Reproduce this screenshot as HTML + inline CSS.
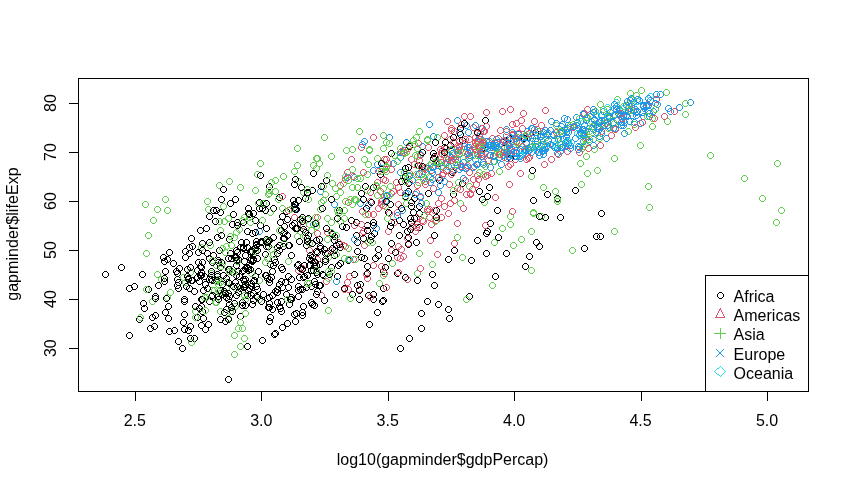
<!DOCTYPE html>
<html lang="en"><head><meta charset="utf-8"><title>gapminder scatter plot</title>
<style>
html,body{margin:0;padding:0;background:#fff;}
body{width:849px;height:489px;overflow:hidden;}
svg{display:block;}
text{font-family:"Liberation Sans",Arial,sans-serif;font-size:16px;fill:#000;}
</style></head><body>
<svg width="849" height="489" viewBox="0 0 849 489">
<defs><path id="c" d="M2 0h3v1h-3zM1 1h1v1h-1zM5 1h1v1h-1zM0 2h1v3h-1zM6 2h1v3h-1zM1 5h1v1h-1zM5 5h1v1h-1zM2 6h3v1h-3z"/></defs>
<rect width="849" height="489" fill="#fff"/>
<g shape-rendering="crispEdges">
<g fill="#61D04F"><use href="#c" x="231" y="351"/><use href="#c" x="237" y="343"/><use href="#c" x="241" y="335"/><use href="#c" x="239" y="325"/><use href="#c" x="225" y="315"/><use href="#c" x="232" y="303"/><use href="#c" x="256" y="296"/><use href="#c" x="241" y="292"/><use href="#c" x="211" y="287"/><use href="#c" x="209" y="287"/><use href="#c" x="223" y="285"/><use href="#c" x="256" y="277"/></g>
<g fill="#2297E6"><use href="#c" x="310" y="221"/><use href="#c" x="331" y="201"/><use href="#c" x="351" y="174"/><use href="#c" x="370" y="167"/><use href="#c" x="390" y="160"/><use href="#c" x="397" y="154"/><use href="#c" x="400" y="147"/><use href="#c" x="403" y="139"/><use href="#c" x="359" y="141"/><use href="#c" x="386" y="134"/><use href="#c" x="426" y="121"/><use href="#c" x="454" y="117"/></g>
<g fill="#000000"><use href="#c" x="357" y="281"/><use href="#c" x="380" y="268"/><use href="#c" x="361" y="255"/><use href="#c" x="388" y="240"/><use href="#c" x="416" y="224"/><use href="#c" x="433" y="207"/><use href="#c" x="450" y="191"/><use href="#c" x="449" y="169"/><use href="#c" x="436" y="160"/><use href="#c" x="431" y="153"/><use href="#c" x="441" y="144"/><use href="#c" x="459" y="137"/><use href="#c" x="397" y="345"/><use href="#c" x="406" y="335"/><use href="#c" x="418" y="325"/><use href="#c" x="446" y="315"/><use href="#c" x="445" y="306"/><use href="#c" x="379" y="298"/><use href="#c" x="370" y="296"/><use href="#c" x="356" y="296"/><use href="#c" x="365" y="292"/><use href="#c" x="349" y="291"/><use href="#c" x="370" y="291"/><use href="#c" x="431" y="282"/></g>
<g fill="#DF536B"><use href="#c" x="454" y="185"/><use href="#c" x="470" y="176"/><use href="#c" x="474" y="172"/><use href="#c" x="488" y="170"/><use href="#c" x="505" y="163"/><use href="#c" x="512" y="156"/><use href="#c" x="500" y="149"/><use href="#c" x="501" y="145"/><use href="#c" x="503" y="139"/><use href="#c" x="521" y="133"/><use href="#c" x="497" y="127"/><use href="#c" x="538" y="122"/></g>
<g fill="#28E2E5"><use href="#c" x="512" y="153"/><use href="#c" x="521" y="147"/><use href="#c" x="533" y="144"/><use href="#c" x="552" y="143"/><use href="#c" x="568" y="139"/><use href="#c" x="578" y="131"/><use href="#c" x="585" y="125"/><use href="#c" x="597" y="118"/><use href="#c" x="605" y="112"/><use href="#c" x="620" y="105"/><use href="#c" x="634" y="98"/><use href="#c" x="647" y="93"/></g>
<g fill="#2297E6"><use href="#c" x="458" y="164"/><use href="#c" x="498" y="161"/><use href="#c" x="519" y="151"/><use href="#c" x="539" y="148"/><use href="#c" x="567" y="145"/><use href="#c" x="586" y="138"/><use href="#c" x="596" y="133"/><use href="#c" x="606" y="124"/><use href="#c" x="621" y="119"/><use href="#c" x="629" y="112"/><use href="#c" x="641" y="105"/><use href="#c" x="652" y="100"/></g>
<g fill="#61D04F"><use href="#c" x="510" y="242"/><use href="#c" x="528" y="228"/><use href="#c" x="538" y="213"/><use href="#c" x="554" y="198"/><use href="#c" x="578" y="181"/><use href="#c" x="584" y="170"/><use href="#c" x="583" y="153"/><use href="#c" x="579" y="145"/><use href="#c" x="582" y="136"/><use href="#c" x="589" y="129"/><use href="#c" x="605" y="125"/><use href="#c" x="631" y="121"/><use href="#c" x="217" y="308"/><use href="#c" x="213" y="299"/><use href="#c" x="217" y="290"/><use href="#c" x="223" y="279"/><use href="#c" x="208" y="270"/><use href="#c" x="213" y="262"/><use href="#c" x="216" y="247"/><use href="#c" x="227" y="233"/><use href="#c" x="239" y="217"/><use href="#c" x="255" y="200"/><use href="#c" x="272" y="188"/><use href="#c" x="295" y="178"/></g>
<g fill="#2297E6"><use href="#c" x="491" y="158"/><use href="#c" x="508" y="152"/><use href="#c" x="522" y="147"/><use href="#c" x="541" y="144"/><use href="#c" x="567" y="142"/><use href="#c" x="583" y="135"/><use href="#c" x="593" y="129"/><use href="#c" x="601" y="122"/><use href="#c" x="614" y="117"/><use href="#c" x="623" y="112"/><use href="#c" x="634" y="108"/><use href="#c" x="645" y="102"/></g>
<g fill="#000000"><use href="#c" x="265" y="304"/><use href="#c" x="254" y="294"/><use href="#c" x="253" y="283"/><use href="#c" x="262" y="272"/><use href="#c" x="267" y="261"/><use href="#c" x="262" y="251"/><use href="#c" x="285" y="242"/><use href="#c" x="281" y="235"/><use href="#c" x="278" y="227"/><use href="#c" x="281" y="223"/><use href="#c" x="293" y="225"/><use href="#c" x="299" y="214"/></g>
<g fill="#DF536B"><use href="#c" x="367" y="294"/><use href="#c" x="341" y="286"/><use href="#c" x="344" y="279"/><use href="#c" x="363" y="271"/><use href="#c" x="378" y="263"/><use href="#c" x="398" y="246"/><use href="#c" x="385" y="228"/><use href="#c" x="370" y="211"/><use href="#c" x="378" y="198"/><use href="#c" x="390" y="188"/><use href="#c" x="393" y="179"/><use href="#c" x="406" y="170"/></g>
<g fill="#2297E6"><use href="#c" x="256" y="228"/><use href="#c" x="292" y="205"/><use href="#c" x="317" y="188"/><use href="#c" x="344" y="174"/><use href="#c" x="374" y="161"/><use href="#c" x="397" y="149"/><use href="#c" x="414" y="145"/><use href="#c" x="419" y="143"/><use href="#c" x="361" y="138"/><use href="#c" x="430" y="133"/><use href="#c" x="456" y="129"/><use href="#c" x="479" y="125"/></g>
<g fill="#000000"><use href="#c" x="241" y="258"/><use href="#c" x="249" y="248"/><use href="#c" x="257" y="239"/><use href="#c" x="280" y="230"/><use href="#c" x="348" y="217"/><use href="#c" x="387" y="201"/><use href="#c" x="425" y="190"/><use href="#c" x="459" y="180"/><use href="#c" x="486" y="184"/><use href="#c" x="495" y="234"/><use href="#c" x="522" y="263"/><use href="#c" x="536" y="243"/></g>
<g fill="#DF536B"><use href="#c" x="340" y="242"/><use href="#c" x="359" y="230"/><use href="#c" x="391" y="219"/><use href="#c" x="394" y="209"/><use href="#c" x="435" y="200"/><use href="#c" x="467" y="190"/><use href="#c" x="473" y="181"/><use href="#c" x="484" y="172"/><use href="#c" x="471" y="163"/><use href="#c" x="486" y="152"/><use href="#c" x="489" y="144"/><use href="#c" x="501" y="137"/></g>
<g fill="#2297E6"><use href="#c" x="357" y="200"/><use href="#c" x="379" y="165"/><use href="#c" x="417" y="151"/><use href="#c" x="447" y="147"/><use href="#c" x="466" y="144"/><use href="#c" x="481" y="145"/><use href="#c" x="490" y="143"/><use href="#c" x="490" y="142"/><use href="#c" x="461" y="143"/><use href="#c" x="455" y="147"/><use href="#c" x="483" y="138"/><use href="#c" x="519" y="134"/></g>
<g fill="#000000"><use href="#c" x="191" y="335"/><use href="#c" x="205" y="321"/><use href="#c" x="223" y="306"/><use href="#c" x="233" y="292"/><use href="#c" x="241" y="278"/><use href="#c" x="226" y="266"/><use href="#c" x="235" y="256"/><use href="#c" x="248" y="249"/><use href="#c" x="251" y="245"/><use href="#c" x="252" y="245"/><use href="#c" x="263" y="243"/><use href="#c" x="280" y="235"/><use href="#c" x="140" y="300"/><use href="#c" x="152" y="293"/><use href="#c" x="145" y="286"/><use href="#c" x="161" y="278"/><use href="#c" x="174" y="276"/><use href="#c" x="194" y="267"/><use href="#c" x="195" y="259"/><use href="#c" x="206" y="255"/><use href="#c" x="208" y="272"/><use href="#c" x="174" y="270"/><use href="#c" x="170" y="260"/><use href="#c" x="166" y="249"/></g>
<g fill="#61D04F"><use href="#c" x="149" y="298"/><use href="#c" x="167" y="289"/><use href="#c" x="182" y="279"/><use href="#c" x="187" y="269"/><use href="#c" x="164" y="294"/><use href="#c" x="188" y="339"/><use href="#c" x="207" y="242"/><use href="#c" x="217" y="227"/><use href="#c" x="216" y="218"/><use href="#c" x="225" y="215"/><use href="#c" x="246" y="214"/><use href="#c" x="318" y="199"/></g>
<g fill="#000000"><use href="#c" x="276" y="303"/><use href="#c" x="288" y="294"/><use href="#c" x="295" y="283"/><use href="#c" x="304" y="272"/><use href="#c" x="316" y="261"/><use href="#c" x="322" y="250"/><use href="#c" x="353" y="232"/><use href="#c" x="364" y="222"/><use href="#c" x="323" y="225"/><use href="#c" x="316" y="236"/><use href="#c" x="331" y="247"/><use href="#c" x="337" y="244"/></g>
<g fill="#DF536B"><use href="#c" x="525" y="155"/><use href="#c" x="536" y="149"/><use href="#c" x="544" y="142"/><use href="#c" x="563" y="138"/><use href="#c" x="582" y="134"/><use href="#c" x="598" y="128"/><use href="#c" x="602" y="120"/><use href="#c" x="619" y="115"/><use href="#c" x="618" y="110"/><use href="#c" x="628" y="106"/><use href="#c" x="644" y="101"/><use href="#c" x="653" y="96"/></g>
<g fill="#000000"><use href="#c" x="266" y="318"/><use href="#c" x="278" y="308"/><use href="#c" x="278" y="298"/><use href="#c" x="272" y="288"/><use href="#c" x="266" y="279"/><use href="#c" x="270" y="262"/><use href="#c" x="254" y="255"/><use href="#c" x="240" y="244"/><use href="#c" x="227" y="250"/><use href="#c" x="225" y="266"/><use href="#c" x="225" y="279"/><use href="#c" x="220" y="272"/><use href="#c" x="277" y="305"/><use href="#c" x="288" y="296"/><use href="#c" x="295" y="287"/><use href="#c" x="278" y="278"/><use href="#c" x="269" y="268"/><use href="#c" x="272" y="259"/><use href="#c" x="234" y="249"/><use href="#c" x="253" y="241"/><use href="#c" x="265" y="238"/><use href="#c" x="259" y="239"/><use href="#c" x="274" y="244"/><use href="#c" x="317" y="243"/></g>
<g fill="#DF536B"><use href="#c" x="409" y="223"/><use href="#c" x="419" y="217"/><use href="#c" x="424" y="208"/><use href="#c" x="438" y="195"/><use href="#c" x="446" y="181"/><use href="#c" x="430" y="163"/><use href="#c" x="437" y="146"/><use href="#c" x="447" y="136"/><use href="#c" x="481" y="128"/><use href="#c" x="513" y="120"/><use href="#c" x="520" y="110"/><use href="#c" x="542" y="107"/></g>
<g fill="#61D04F"><use href="#c" x="158" y="276"/><use href="#c" x="198" y="244"/><use href="#c" x="180" y="274"/><use href="#c" x="205" y="206"/><use href="#c" x="216" y="182"/><use href="#c" x="226" y="178"/><use href="#c" x="254" y="171"/><use href="#c" x="294" y="162"/><use href="#c" x="314" y="155"/><use href="#c" x="349" y="146"/><use href="#c" x="383" y="139"/><use href="#c" x="434" y="134"/></g>
<g fill="#DF536B"><use href="#c" x="342" y="243"/><use href="#c" x="351" y="222"/><use href="#c" x="359" y="208"/><use href="#c" x="367" y="198"/><use href="#c" x="388" y="190"/><use href="#c" x="406" y="179"/><use href="#c" x="421" y="165"/><use href="#c" x="433" y="160"/><use href="#c" x="445" y="156"/><use href="#c" x="457" y="147"/><use href="#c" x="451" y="140"/><use href="#c" x="472" y="134"/></g>
<g fill="#000000"><use href="#c" x="269" y="292"/><use href="#c" x="279" y="284"/><use href="#c" x="296" y="274"/><use href="#c" x="328" y="264"/><use href="#c" x="331" y="252"/><use href="#c" x="276" y="242"/><use href="#c" x="284" y="232"/><use href="#c" x="289" y="222"/><use href="#c" x="283" y="208"/><use href="#c" x="276" y="194"/><use href="#c" x="266" y="183"/><use href="#c" x="257" y="172"/><use href="#c" x="231" y="300"/><use href="#c" x="248" y="292"/><use href="#c" x="246" y="285"/><use href="#c" x="242" y="276"/><use href="#c" x="247" y="266"/><use href="#c" x="233" y="257"/><use href="#c" x="215" y="257"/><use href="#c" x="215" y="259"/><use href="#c" x="173" y="268"/><use href="#c" x="131" y="283"/><use href="#c" x="102" y="271"/><use href="#c" x="118" y="264"/><use href="#c" x="341" y="285"/><use href="#c" x="351" y="271"/><use href="#c" x="358" y="254"/><use href="#c" x="367" y="237"/><use href="#c" x="387" y="223"/><use href="#c" x="388" y="219"/><use href="#c" x="433" y="214"/><use href="#c" x="416" y="210"/><use href="#c" x="411" y="215"/><use href="#c" x="396" y="232"/><use href="#c" x="396" y="232"/><use href="#c" x="400" y="221"/></g>
<g fill="#DF536B"><use href="#c" x="365" y="211"/><use href="#c" x="379" y="197"/><use href="#c" x="395" y="184"/><use href="#c" x="415" y="171"/><use href="#c" x="438" y="159"/><use href="#c" x="454" y="145"/><use href="#c" x="441" y="132"/><use href="#c" x="448" y="125"/><use href="#c" x="458" y="121"/><use href="#c" x="467" y="113"/><use href="#c" x="483" y="109"/><use href="#c" x="507" y="106"/></g>
<g fill="#000000"><use href="#c" x="295" y="293"/><use href="#c" x="303" y="284"/><use href="#c" x="319" y="271"/><use href="#c" x="337" y="260"/><use href="#c" x="354" y="248"/><use href="#c" x="360" y="235"/><use href="#c" x="364" y="227"/><use href="#c" x="343" y="224"/><use href="#c" x="313" y="237"/><use href="#c" x="322" y="256"/><use href="#c" x="313" y="262"/><use href="#c" x="306" y="255"/></g>
<g fill="#2297E6"><use href="#c" x="383" y="192"/><use href="#c" x="420" y="174"/><use href="#c" x="445" y="163"/><use href="#c" x="472" y="156"/><use href="#c" x="502" y="150"/><use href="#c" x="525" y="145"/><use href="#c" x="542" y="146"/><use href="#c" x="547" y="141"/><use href="#c" x="493" y="136"/><use href="#c" x="510" y="131"/><use href="#c" x="528" y="125"/><use href="#c" x="553" y="120"/></g>
<g fill="#DF536B"><use href="#c" x="447" y="200"/><use href="#c" x="457" y="186"/><use href="#c" x="439" y="172"/><use href="#c" x="449" y="157"/><use href="#c" x="442" y="145"/><use href="#c" x="462" y="136"/><use href="#c" x="477" y="130"/><use href="#c" x="480" y="128"/><use href="#c" x="448" y="127"/><use href="#c" x="444" y="118"/><use href="#c" x="461" y="113"/><use href="#c" x="499" y="108"/></g>
<g fill="#2297E6"><use href="#c" x="470" y="164"/><use href="#c" x="490" y="153"/><use href="#c" x="513" y="149"/><use href="#c" x="526" y="147"/><use href="#c" x="541" y="147"/><use href="#c" x="554" y="145"/><use href="#c" x="559" y="144"/><use href="#c" x="565" y="141"/><use href="#c" x="551" y="137"/><use href="#c" x="563" y="129"/><use href="#c" x="573" y="122"/><use href="#c" x="602" y="117"/><use href="#c" x="508" y="145"/><use href="#c" x="523" y="140"/><use href="#c" x="545" y="137"/><use href="#c" x="563" y="134"/><use href="#c" x="581" y="132"/><use href="#c" x="590" y="126"/><use href="#c" x="596" y="126"/><use href="#c" x="612" y="125"/><use href="#c" x="618" y="122"/><use href="#c" x="631" y="119"/><use href="#c" x="640" y="113"/><use href="#c" x="650" y="108"/></g>
<g fill="#000000"><use href="#c" x="366" y="321"/><use href="#c" x="374" y="309"/><use href="#c" x="380" y="297"/><use href="#c" x="380" y="285"/><use href="#c" x="402" y="274"/><use href="#c" x="382" y="264"/><use href="#c" x="375" y="252"/><use href="#c" x="375" y="246"/><use href="#c" x="354" y="239"/><use href="#c" x="329" y="231"/><use href="#c" x="329" y="230"/><use href="#c" x="339" y="223"/></g>
<g fill="#DF536B"><use href="#c" x="295" y="267"/><use href="#c" x="306" y="247"/><use href="#c" x="314" y="230"/><use href="#c" x="314" y="214"/><use href="#c" x="345" y="199"/><use href="#c" x="367" y="189"/><use href="#c" x="374" y="179"/><use href="#c" x="375" y="168"/><use href="#c" x="381" y="156"/><use href="#c" x="400" y="149"/><use href="#c" x="425" y="144"/><use href="#c" x="456" y="138"/><use href="#c" x="397" y="255"/><use href="#c" x="405" y="240"/><use href="#c" x="413" y="224"/><use href="#c" x="426" y="214"/><use href="#c" x="441" y="203"/><use href="#c" x="467" y="191"/><use href="#c" x="475" y="176"/><use href="#c" x="464" y="162"/><use href="#c" x="474" y="150"/><use href="#c" x="479" y="137"/><use href="#c" x="451" y="128"/><use href="#c" x="470" y="124"/></g>
<g fill="#000000"><use href="#c" x="297" y="286"/><use href="#c" x="300" y="274"/><use href="#c" x="316" y="261"/><use href="#c" x="324" y="250"/><use href="#c" x="336" y="241"/><use href="#c" x="371" y="230"/><use href="#c" x="396" y="217"/><use href="#c" x="408" y="199"/><use href="#c" x="405" y="180"/><use href="#c" x="415" y="162"/><use href="#c" x="430" y="150"/><use href="#c" x="447" y="142"/></g>
<g fill="#DF536B"><use href="#c" x="381" y="270"/><use href="#c" x="394" y="254"/><use href="#c" x="404" y="235"/><use href="#c" x="420" y="218"/><use href="#c" x="424" y="206"/><use href="#c" x="438" y="214"/><use href="#c" x="413" y="214"/><use href="#c" x="414" y="182"/><use href="#c" x="422" y="164"/><use href="#c" x="439" y="151"/><use href="#c" x="443" y="145"/><use href="#c" x="450" y="139"/></g>
<g fill="#000000"><use href="#c" x="151" y="323"/><use href="#c" x="165" y="315"/><use href="#c" x="199" y="308"/><use href="#c" x="249" y="301"/><use href="#c" x="215" y="293"/><use href="#c" x="254" y="286"/><use href="#c" x="250" y="278"/><use href="#c" x="255" y="268"/><use href="#c" x="272" y="259"/><use href="#c" x="372" y="255"/><use href="#c" x="483" y="250"/><use href="#c" x="533" y="239"/><use href="#c" x="136" y="316"/><use href="#c" x="141" y="305"/><use href="#c" x="152" y="295"/><use href="#c" x="175" y="285"/><use href="#c" x="185" y="275"/><use href="#c" x="184" y="273"/><use href="#c" x="188" y="277"/><use href="#c" x="187" y="264"/><use href="#c" x="199" y="247"/><use href="#c" x="249" y="230"/><use href="#c" x="229" y="221"/><use href="#c" x="210" y="207"/><use href="#c" x="147" y="325"/><use href="#c" x="152" y="312"/><use href="#c" x="163" y="295"/><use href="#c" x="186" y="285"/><use href="#c" x="196" y="278"/><use href="#c" x="194" y="274"/><use href="#c" x="198" y="272"/><use href="#c" x="197" y="263"/><use href="#c" x="164" y="256"/><use href="#c" x="186" y="250"/><use href="#c" x="189" y="243"/><use href="#c" x="218" y="232"/></g>
<g fill="#2297E6"><use href="#c" x="463" y="165"/><use href="#c" x="480" y="161"/><use href="#c" x="504" y="155"/><use href="#c" x="521" y="149"/><use href="#c" x="551" y="144"/><use href="#c" x="560" y="136"/><use href="#c" x="579" y="126"/><use href="#c" x="594" y="125"/><use href="#c" x="591" y="121"/><use href="#c" x="606" y="114"/><use href="#c" x="625" y="108"/><use href="#c" x="643" y="103"/><use href="#c" x="473" y="161"/><use href="#c" x="496" y="154"/><use href="#c" x="517" y="146"/><use href="#c" x="540" y="141"/><use href="#c" x="564" y="137"/><use href="#c" x="578" y="130"/><use href="#c" x="589" y="125"/><use href="#c" x="598" y="117"/><use href="#c" x="611" y="112"/><use href="#c" x="616" y="106"/><use href="#c" x="628" y="102"/><use href="#c" x="634" y="96"/></g>
<g fill="#000000"><use href="#c" x="418" y="310"/><use href="#c" x="435" y="301"/><use href="#c" x="466" y="293"/><use href="#c" x="492" y="273"/><use href="#c" x="526" y="253"/><use href="#c" x="597" y="233"/><use href="#c" x="557" y="214"/><use href="#c" x="530" y="197"/><use href="#c" x="544" y="191"/><use href="#c" x="554" y="195"/><use href="#c" x="536" y="213"/><use href="#c" x="542" y="214"/><use href="#c" x="179" y="345"/><use href="#c" x="187" y="335"/><use href="#c" x="202" y="326"/><use href="#c" x="225" y="316"/><use href="#c" x="228" y="304"/><use href="#c" x="245" y="287"/><use href="#c" x="239" y="268"/><use href="#c" x="204" y="250"/><use href="#c" x="214" y="234"/><use href="#c" x="212" y="218"/><use href="#c" x="213" y="207"/><use href="#c" x="227" y="200"/></g>
<g fill="#2297E6"><use href="#c" x="474" y="161"/><use href="#c" x="513" y="153"/><use href="#c" x="539" y="147"/><use href="#c" x="554" y="145"/><use href="#c" x="576" y="144"/><use href="#c" x="590" y="136"/><use href="#c" x="598" y="130"/><use href="#c" x="610" y="125"/><use href="#c" x="618" y="119"/><use href="#c" x="624" y="113"/><use href="#c" x="632" y="106"/><use href="#c" x="640" y="102"/></g>
<g fill="#000000"><use href="#c" x="248" y="280"/><use href="#c" x="263" y="272"/><use href="#c" x="278" y="264"/><use href="#c" x="271" y="256"/><use href="#c" x="276" y="247"/><use href="#c" x="258" y="238"/><use href="#c" x="244" y="228"/><use href="#c" x="240" y="219"/><use href="#c" x="250" y="210"/><use href="#c" x="259" y="205"/><use href="#c" x="270" y="205"/><use href="#c" x="290" y="197"/></g>
<g fill="#2297E6"><use href="#c" x="397" y="169"/><use href="#c" x="433" y="159"/><use href="#c" x="456" y="151"/><use href="#c" x="494" y="144"/><use href="#c" x="538" y="137"/><use href="#c" x="550" y="131"/><use href="#c" x="558" y="123"/><use href="#c" x="564" y="116"/><use href="#c" x="573" y="114"/><use href="#c" x="580" y="110"/><use href="#c" x="600" y="108"/><use href="#c" x="623" y="102"/></g>
<g fill="#DF536B"><use href="#c" x="356" y="286"/><use href="#c" x="364" y="275"/><use href="#c" x="370" y="262"/><use href="#c" x="388" y="247"/><use href="#c" x="412" y="228"/><use href="#c" x="433" y="217"/><use href="#c" x="431" y="207"/><use href="#c" x="417" y="194"/><use href="#c" x="422" y="181"/><use href="#c" x="428" y="167"/><use href="#c" x="432" y="154"/><use href="#c" x="439" y="147"/></g>
<g fill="#000000"><use href="#c" x="185" y="327"/><use href="#c" x="198" y="322"/><use href="#c" x="217" y="316"/><use href="#c" x="221" y="309"/><use href="#c" x="226" y="301"/><use href="#c" x="244" y="292"/><use href="#c" x="242" y="281"/><use href="#c" x="235" y="268"/><use href="#c" x="233" y="254"/><use href="#c" x="243" y="239"/><use href="#c" x="252" y="229"/><use href="#c" x="252" y="217"/><use href="#c" x="126" y="332"/><use href="#c" x="166" y="328"/><use href="#c" x="187" y="323"/><use href="#c" x="222" y="318"/><use href="#c" x="237" y="313"/><use href="#c" x="229" y="308"/><use href="#c" x="239" y="299"/><use href="#c" x="225" y="290"/><use href="#c" x="226" y="280"/><use href="#c" x="233" y="272"/><use href="#c" x="198" y="269"/><use href="#c" x="198" y="264"/></g>
<g fill="#DF536B"><use href="#c" x="325" y="307"/><use href="#c" x="318" y="292"/><use href="#c" x="323" y="278"/><use href="#c" x="299" y="265"/><use href="#c" x="314" y="256"/><use href="#c" x="327" y="247"/><use href="#c" x="335" y="239"/><use href="#c" x="324" y="229"/><use href="#c" x="300" y="222"/><use href="#c" x="291" y="214"/><use href="#c" x="285" y="207"/><use href="#c" x="279" y="193"/><use href="#c" x="345" y="286"/><use href="#c" x="346" y="273"/><use href="#c" x="350" y="256"/><use href="#c" x="361" y="242"/><use href="#c" x="360" y="228"/><use href="#c" x="386" y="210"/><use href="#c" x="383" y="193"/><use href="#c" x="380" y="176"/><use href="#c" x="382" y="166"/><use href="#c" x="385" y="160"/><use href="#c" x="383" y="156"/><use href="#c" x="398" y="148"/></g>
<g fill="#61D04F"><use href="#c" x="381" y="193"/><use href="#c" x="400" y="174"/><use href="#c" x="428" y="160"/><use href="#c" x="459" y="149"/><use href="#c" x="491" y="139"/><use href="#c" x="524" y="131"/><use href="#c" x="553" y="122"/><use href="#c" x="588" y="118"/><use href="#c" x="611" y="111"/><use href="#c" x="626" y="100"/><use href="#c" x="633" y="92"/><use href="#c" x="663" y="89"/></g>
<g fill="#2297E6"><use href="#c" x="441" y="178"/><use href="#c" x="456" y="166"/><use href="#c" x="480" y="159"/><use href="#c" x="504" y="151"/><use href="#c" x="513" y="150"/><use href="#c" x="528" y="149"/><use href="#c" x="536" y="152"/><use href="#c" x="540" y="151"/><use href="#c" x="517" y="153"/><use href="#c" x="529" y="143"/><use href="#c" x="555" y="136"/><use href="#c" x="576" y="132"/><use href="#c" x="476" y="136"/><use href="#c" x="503" y="132"/><use href="#c" x="515" y="131"/><use href="#c" x="543" y="130"/><use href="#c" x="562" y="127"/><use href="#c" x="586" y="119"/><use href="#c" x="604" y="114"/><use href="#c" x="620" y="113"/><use href="#c" x="613" y="106"/><use href="#c" x="625" y="105"/><use href="#c" x="636" y="97"/><use href="#c" x="653" y="91"/></g>
<g fill="#61D04F"><use href="#c" x="192" y="308"/><use href="#c" x="201" y="294"/><use href="#c" x="213" y="278"/><use href="#c" x="219" y="260"/><use href="#c" x="223" y="243"/><use href="#c" x="236" y="226"/><use href="#c" x="241" y="214"/><use href="#c" x="256" y="205"/><use href="#c" x="275" y="196"/><use href="#c" x="300" y="189"/><use href="#c" x="320" y="183"/><use href="#c" x="357" y="175"/><use href="#c" x="227" y="308"/><use href="#c" x="242" y="296"/><use href="#c" x="241" y="283"/><use href="#c" x="229" y="266"/><use href="#c" x="270" y="251"/><use href="#c" x="294" y="233"/><use href="#c" x="304" y="216"/><use href="#c" x="320" y="197"/><use href="#c" x="354" y="184"/><use href="#c" x="383" y="168"/><use href="#c" x="374" y="155"/><use href="#c" x="397" y="145"/><use href="#c" x="380" y="272"/><use href="#c" x="389" y="260"/><use href="#c" x="416" y="250"/><use href="#c" x="454" y="234"/><use href="#c" x="507" y="221"/><use href="#c" x="530" y="209"/><use href="#c" x="481" y="199"/><use href="#c" x="466" y="183"/><use href="#c" x="476" y="169"/><use href="#c" x="490" y="158"/><use href="#c" x="503" y="151"/><use href="#c" x="528" y="144"/><use href="#c" x="414" y="270"/><use href="#c" x="459" y="254"/><use href="#c" x="491" y="239"/><use href="#c" x="499" y="225"/><use href="#c" x="507" y="213"/><use href="#c" x="554" y="196"/><use href="#c" x="552" y="188"/><use href="#c" x="528" y="173"/><use href="#c" x="403" y="200"/><use href="#c" x="382" y="203"/><use href="#c" x="421" y="212"/><use href="#c" x="423" y="200"/></g>
<g fill="#2297E6"><use href="#c" x="440" y="164"/><use href="#c" x="448" y="154"/><use href="#c" x="466" y="147"/><use href="#c" x="482" y="143"/><use href="#c" x="506" y="142"/><use href="#c" x="523" y="139"/><use href="#c" x="537" y="133"/><use href="#c" x="547" y="127"/><use href="#c" x="573" y="122"/><use href="#c" x="610" y="119"/><use href="#c" x="646" y="110"/><use href="#c" x="665" y="105"/></g>
<g fill="#61D04F"><use href="#c" x="413" y="171"/><use href="#c" x="443" y="159"/><use href="#c" x="474" y="152"/><use href="#c" x="492" y="145"/><use href="#c" x="538" y="141"/><use href="#c" x="543" y="134"/><use href="#c" x="559" y="127"/><use href="#c" x="570" y="121"/><use href="#c" x="576" y="115"/><use href="#c" x="592" y="108"/><use href="#c" x="597" y="101"/><use href="#c" x="614" y="96"/></g>
<g fill="#2297E6"><use href="#c" x="434" y="168"/><use href="#c" x="460" y="159"/><use href="#c" x="490" y="152"/><use href="#c" x="512" y="143"/><use href="#c" x="534" y="138"/><use href="#c" x="550" y="132"/><use href="#c" x="567" y="124"/><use href="#c" x="583" y="117"/><use href="#c" x="598" y="112"/><use href="#c" x="611" y="105"/><use href="#c" x="624" y="98"/><use href="#c" x="627" y="97"/></g>
<g fill="#DF536B"><use href="#c" x="375" y="205"/><use href="#c" x="430" y="185"/><use href="#c" x="440" y="170"/><use href="#c" x="457" y="161"/><use href="#c" x="479" y="153"/><use href="#c" x="467" y="148"/><use href="#c" x="456" y="143"/><use href="#c" x="461" y="140"/><use href="#c" x="478" y="140"/><use href="#c" x="474" y="137"/><use href="#c" x="472" y="139"/><use href="#c" x="477" y="136"/></g>
<g fill="#61D04F"><use href="#c" x="387" y="183"/><use href="#c" x="419" y="171"/><use href="#c" x="465" y="155"/><use href="#c" x="510" y="142"/><use href="#c" x="554" y="132"/><use href="#c" x="567" y="122"/><use href="#c" x="584" y="114"/><use href="#c" x="600" y="106"/><use href="#c" x="620" y="103"/><use href="#c" x="628" y="96"/><use href="#c" x="627" y="90"/><use href="#c" x="638" y="87"/><use href="#c" x="306" y="280"/><use href="#c" x="328" y="268"/><use href="#c" x="352" y="256"/><use href="#c" x="369" y="239"/><use href="#c" x="341" y="215"/><use href="#c" x="374" y="192"/><use href="#c" x="415" y="179"/><use href="#c" x="422" y="169"/><use href="#c" x="394" y="158"/><use href="#c" x="401" y="150"/><use href="#c" x="406" y="142"/><use href="#c" x="424" y="136"/></g>
<g fill="#000000"><use href="#c" x="241" y="284"/><use href="#c" x="252" y="273"/><use href="#c" x="247" y="257"/><use href="#c" x="265" y="243"/><use href="#c" x="281" y="229"/><use href="#c" x="284" y="216"/><use href="#c" x="291" y="204"/><use href="#c" x="292" y="201"/><use href="#c" x="291" y="201"/><use href="#c" x="292" y="225"/><use href="#c" x="286" y="242"/><use href="#c" x="300" y="226"/></g>
<g fill="#61D04F"><use href="#c" x="268" y="246"/><use href="#c" x="308" y="227"/><use href="#c" x="312" y="214"/><use href="#c" x="342" y="198"/><use href="#c" x="402" y="178"/><use href="#c" x="414" y="162"/><use href="#c" x="414" y="153"/><use href="#c" x="414" y="145"/><use href="#c" x="403" y="149"/><use href="#c" x="316" y="160"/><use href="#c" x="313" y="165"/><use href="#c" x="310" y="162"/><use href="#c" x="262" y="259"/><use href="#c" x="302" y="233"/><use href="#c" x="306" y="221"/><use href="#c" x="336" y="209"/><use href="#c" x="380" y="185"/><use href="#c" x="427" y="174"/><use href="#c" x="448" y="163"/><use href="#c" x="494" y="149"/><use href="#c" x="532" y="138"/><use href="#c" x="563" y="126"/><use href="#c" x="583" y="114"/><use href="#c" x="604" y="106"/><use href="#c" x="773" y="219"/><use href="#c" x="778" y="207"/><use href="#c" x="759" y="195"/><use href="#c" x="741" y="175"/><use href="#c" x="774" y="160"/><use href="#c" x="707" y="152"/><use href="#c" x="637" y="142"/><use href="#c" x="625" y="128"/><use href="#c" x="649" y="123"/><use href="#c" x="664" y="118"/><use href="#c" x="649" y="115"/><use href="#c" x="682" y="111"/><use href="#c" x="432" y="218"/><use href="#c" x="457" y="200"/><use href="#c" x="450" y="187"/><use href="#c" x="455" y="179"/><use href="#c" x="480" y="171"/><use href="#c" x="496" y="168"/><use href="#c" x="482" y="163"/><use href="#c" x="443" y="159"/><use href="#c" x="470" y="152"/><use href="#c" x="497" y="147"/><use href="#c" x="504" y="144"/><use href="#c" x="516" y="139"/></g>
<g fill="#000000"><use href="#c" x="126" y="285"/><use href="#c" x="139" y="271"/><use href="#c" x="161" y="258"/><use href="#c" x="182" y="254"/><use href="#c" x="182" y="248"/><use href="#c" x="226" y="236"/><use href="#c" x="234" y="222"/><use href="#c" x="230" y="211"/><use href="#c" x="256" y="199"/><use href="#c" x="277" y="219"/><use href="#c" x="285" y="273"/><use href="#c" x="308" y="283"/><use href="#c" x="198" y="303"/><use href="#c" x="206" y="298"/><use href="#c" x="208" y="293"/><use href="#c" x="221" y="288"/><use href="#c" x="234" y="283"/><use href="#c" x="209" y="277"/><use href="#c" x="197" y="272"/><use href="#c" x="184" y="266"/><use href="#c" x="209" y="292"/><use href="#c" x="204" y="285"/><use href="#c" x="189" y="277"/><use href="#c" x="162" y="268"/><use href="#c" x="354" y="282"/><use href="#c" x="394" y="270"/><use href="#c" x="468" y="257"/><use href="#c" x="581" y="245"/><use href="#c" x="593" y="233"/><use href="#c" x="598" y="210"/><use href="#c" x="572" y="187"/><use href="#c" x="529" y="167"/><use href="#c" x="507" y="155"/><use href="#c" x="505" y="141"/><use href="#c" x="506" y="135"/><use href="#c" x="532" y="129"/><use href="#c" x="299" y="312"/><use href="#c" x="309" y="301"/><use href="#c" x="313" y="291"/><use href="#c" x="312" y="281"/><use href="#c" x="320" y="272"/><use href="#c" x="306" y="262"/><use href="#c" x="288" y="252"/><use href="#c" x="274" y="250"/><use href="#c" x="263" y="236"/><use href="#c" x="257" y="222"/><use href="#c" x="246" y="211"/><use href="#c" x="263" y="200"/><use href="#c" x="149" y="314"/><use href="#c" x="162" y="309"/><use href="#c" x="165" y="303"/><use href="#c" x="181" y="298"/><use href="#c" x="200" y="287"/><use href="#c" x="213" y="277"/><use href="#c" x="208" y="268"/><use href="#c" x="209" y="259"/><use href="#c" x="195" y="249"/><use href="#c" x="218" y="259"/><use href="#c" x="214" y="271"/><use href="#c" x="228" y="255"/></g>
<g fill="#61D04F"><use href="#c" x="325" y="254"/><use href="#c" x="324" y="236"/><use href="#c" x="337" y="218"/><use href="#c" x="349" y="201"/><use href="#c" x="373" y="183"/><use href="#c" x="406" y="172"/><use href="#c" x="433" y="158"/><use href="#c" x="441" y="151"/><use href="#c" x="476" y="145"/><use href="#c" x="513" y="139"/><use href="#c" x="514" y="134"/><use href="#c" x="535" y="128"/></g>
<g fill="#000000"><use href="#c" x="171" y="327"/><use href="#c" x="180" y="319"/><use href="#c" x="181" y="311"/><use href="#c" x="192" y="303"/><use href="#c" x="199" y="296"/><use href="#c" x="217" y="287"/><use href="#c" x="206" y="276"/><use href="#c" x="217" y="264"/><use href="#c" x="225" y="255"/><use href="#c" x="233" y="247"/><use href="#c" x="253" y="238"/><use href="#c" x="263" y="225"/><use href="#c" x="226" y="293"/><use href="#c" x="240" y="284"/><use href="#c" x="264" y="275"/><use href="#c" x="297" y="265"/><use href="#c" x="309" y="254"/><use href="#c" x="303" y="242"/><use href="#c" x="302" y="229"/><use href="#c" x="297" y="216"/><use href="#c" x="292" y="206"/><use href="#c" x="302" y="195"/><use href="#c" x="309" y="187"/><use href="#c" x="323" y="177"/><use href="#c" x="333" y="242"/><use href="#c" x="336" y="207"/><use href="#c" x="360" y="196"/><use href="#c" x="358" y="190"/><use href="#c" x="362" y="183"/><use href="#c" x="402" y="173"/><use href="#c" x="402" y="165"/><use href="#c" x="430" y="155"/><use href="#c" x="456" y="150"/><use href="#c" x="479" y="145"/><use href="#c" x="500" y="139"/><use href="#c" x="521" y="135"/></g>
<g fill="#DF536B"><use href="#c" x="395" y="243"/><use href="#c" x="414" y="221"/><use href="#c" x="426" y="206"/><use href="#c" x="451" y="197"/><use href="#c" x="469" y="186"/><use href="#c" x="482" y="173"/><use href="#c" x="507" y="161"/><use href="#c" x="496" y="151"/><use href="#c" x="505" y="141"/><use href="#c" x="509" y="131"/><use href="#c" x="519" y="125"/><use href="#c" x="531" y="118"/></g>
<g fill="#61D04F"><use href="#c" x="232" y="285"/><use href="#c" x="248" y="270"/><use href="#c" x="264" y="255"/><use href="#c" x="281" y="240"/><use href="#c" x="297" y="228"/><use href="#c" x="313" y="220"/><use href="#c" x="335" y="210"/><use href="#c" x="352" y="196"/><use href="#c" x="322" y="191"/><use href="#c" x="329" y="180"/><use href="#c" x="342" y="173"/><use href="#c" x="383" y="164"/></g>
<g fill="#2297E6"><use href="#c" x="365" y="202"/><use href="#c" x="402" y="190"/><use href="#c" x="427" y="179"/><use href="#c" x="454" y="162"/><use href="#c" x="484" y="145"/><use href="#c" x="507" y="134"/><use href="#c" x="524" y="128"/><use href="#c" x="529" y="125"/><use href="#c" x="472" y="122"/><use href="#c" x="463" y="122"/><use href="#c" x="465" y="129"/><use href="#c" x="503" y="126"/></g>
<g fill="#000000"><use href="#c" x="316" y="282"/><use href="#c" x="313" y="269"/><use href="#c" x="308" y="257"/><use href="#c" x="317" y="245"/><use href="#c" x="331" y="233"/><use href="#c" x="353" y="219"/><use href="#c" x="368" y="199"/><use href="#c" x="370" y="184"/><use href="#c" x="377" y="171"/><use href="#c" x="378" y="160"/><use href="#c" x="388" y="150"/><use href="#c" x="406" y="143"/><use href="#c" x="175" y="338"/><use href="#c" x="181" y="326"/><use href="#c" x="194" y="314"/><use href="#c" x="196" y="305"/><use href="#c" x="223" y="294"/><use href="#c" x="183" y="283"/><use href="#c" x="174" y="282"/><use href="#c" x="155" y="282"/><use href="#c" x="161" y="275"/><use href="#c" x="176" y="265"/><use href="#c" x="208" y="276"/><use href="#c" x="237" y="285"/></g>
<g fill="#61D04F"><use href="#c" x="137" y="314"/><use href="#c" x="143" y="286"/><use href="#c" x="154" y="271"/><use href="#c" x="143" y="250"/><use href="#c" x="145" y="232"/><use href="#c" x="150" y="217"/><use href="#c" x="164" y="207"/><use href="#c" x="154" y="206"/><use href="#c" x="142" y="201"/><use href="#c" x="162" y="196"/><use href="#c" x="204" y="198"/><use href="#c" x="252" y="187"/></g>
<g fill="#000000"><use href="#c" x="356" y="287"/><use href="#c" x="364" y="270"/><use href="#c" x="385" y="255"/><use href="#c" x="405" y="241"/><use href="#c" x="404" y="228"/><use href="#c" x="407" y="215"/><use href="#c" x="416" y="203"/><use href="#c" x="402" y="193"/><use href="#c" x="405" y="188"/><use href="#c" x="408" y="203"/><use href="#c" x="413" y="239"/><use href="#c" x="431" y="232"/></g>
<g fill="#61D04F"><use href="#c" x="192" y="314"/><use href="#c" x="202" y="307"/><use href="#c" x="212" y="299"/><use href="#c" x="216" y="288"/><use href="#c" x="215" y="276"/><use href="#c" x="218" y="263"/><use href="#c" x="222" y="249"/><use href="#c" x="231" y="234"/><use href="#c" x="247" y="219"/><use href="#c" x="260" y="200"/><use href="#c" x="265" y="191"/><use href="#c" x="268" y="179"/></g>
<g fill="#2297E6"><use href="#c" x="499" y="138"/><use href="#c" x="525" y="134"/><use href="#c" x="538" y="133"/><use href="#c" x="558" y="130"/><use href="#c" x="581" y="130"/><use href="#c" x="594" y="123"/><use href="#c" x="595" y="119"/><use href="#c" x="606" y="115"/><use href="#c" x="620" y="112"/><use href="#c" x="633" y="109"/><use href="#c" x="645" y="107"/><use href="#c" x="654" y="101"/></g>
<g fill="#28E2E5"><use href="#c" x="517" y="152"/><use href="#c" x="534" y="147"/><use href="#c" x="542" y="142"/><use href="#c" x="552" y="141"/><use href="#c" x="563" y="139"/><use href="#c" x="565" y="138"/><use href="#c" x="574" y="130"/><use href="#c" x="582" y="127"/><use href="#c" x="578" y="118"/><use href="#c" x="593" y="112"/><use href="#c" x="604" y="104"/><use href="#c" x="613" y="99"/></g>
<g fill="#DF536B"><use href="#c" x="383" y="284"/><use href="#c" x="395" y="269"/><use href="#c" x="400" y="253"/><use href="#c" x="427" y="237"/><use href="#c" x="428" y="221"/><use href="#c" x="445" y="210"/><use href="#c" x="395" y="201"/><use href="#c" x="377" y="188"/><use href="#c" x="344" y="169"/><use href="#c" x="348" y="156"/><use href="#c" x="358" y="144"/><use href="#c" x="370" y="134"/></g>
<g fill="#000000"><use href="#c" x="229" y="308"/><use href="#c" x="239" y="302"/><use href="#c" x="258" y="298"/><use href="#c" x="264" y="295"/><use href="#c" x="253" y="293"/><use href="#c" x="235" y="289"/><use href="#c" x="248" y="283"/><use href="#c" x="214" y="273"/><use href="#c" x="199" y="259"/><use href="#c" x="199" y="240"/><use href="#c" x="203" y="225"/><use href="#c" x="206" y="213"/><use href="#c" x="267" y="314"/><use href="#c" x="269" y="306"/><use href="#c" x="274" y="299"/><use href="#c" x="260" y="291"/><use href="#c" x="317" y="282"/><use href="#c" x="334" y="273"/><use href="#c" x="308" y="267"/><use href="#c" x="294" y="262"/><use href="#c" x="311" y="259"/><use href="#c" x="312" y="259"/><use href="#c" x="311" y="263"/><use href="#c" x="335" y="262"/></g>
<g fill="#2297E6"><use href="#c" x="512" y="135"/><use href="#c" x="528" y="132"/><use href="#c" x="544" y="132"/><use href="#c" x="565" y="129"/><use href="#c" x="582" y="127"/><use href="#c" x="604" y="122"/><use href="#c" x="618" y="119"/><use href="#c" x="637" y="120"/><use href="#c" x="646" y="113"/><use href="#c" x="667" y="108"/><use href="#c" x="676" y="104"/><use href="#c" x="687" y="99"/></g>
<g fill="#61D04F"><use href="#c" x="325" y="307"/><use href="#c" x="347" y="295"/><use href="#c" x="376" y="280"/><use href="#c" x="429" y="261"/><use href="#c" x="518" y="236"/><use href="#c" x="530" y="210"/><use href="#c" x="540" y="184"/><use href="#c" x="577" y="160"/><use href="#c" x="580" y="143"/><use href="#c" x="586" y="136"/><use href="#c" x="586" y="128"/><use href="#c" x="599" y="121"/><use href="#c" x="217" y="279"/><use href="#c" x="226" y="268"/><use href="#c" x="234" y="258"/><use href="#c" x="252" y="248"/><use href="#c" x="264" y="237"/><use href="#c" x="276" y="227"/><use href="#c" x="299" y="216"/><use href="#c" x="317" y="206"/><use href="#c" x="333" y="193"/><use href="#c" x="337" y="189"/><use href="#c" x="340" y="180"/><use href="#c" x="364" y="171"/></g>
<g fill="#DF536B"><use href="#c" x="358" y="221"/><use href="#c" x="378" y="201"/><use href="#c" x="397" y="189"/><use href="#c" x="422" y="178"/><use href="#c" x="443" y="167"/><use href="#c" x="443" y="155"/><use href="#c" x="472" y="146"/><use href="#c" x="473" y="141"/><use href="#c" x="466" y="136"/><use href="#c" x="474" y="130"/><use href="#c" x="478" y="125"/><use href="#c" x="509" y="121"/><use href="#c" x="332" y="185"/><use href="#c" x="337" y="182"/><use href="#c" x="342" y="176"/><use href="#c" x="350" y="173"/><use href="#c" x="360" y="169"/><use href="#c" x="388" y="166"/><use href="#c" x="418" y="164"/><use href="#c" x="411" y="161"/><use href="#c" x="416" y="157"/><use href="#c" x="417" y="152"/><use href="#c" x="405" y="145"/><use href="#c" x="415" y="140"/><use href="#c" x="404" y="276"/><use href="#c" x="417" y="265"/><use href="#c" x="434" y="251"/><use href="#c" x="451" y="240"/><use href="#c" x="454" y="220"/><use href="#c" x="460" y="205"/><use href="#c" x="463" y="191"/><use href="#c" x="462" y="177"/><use href="#c" x="422" y="166"/><use href="#c" x="452" y="156"/><use href="#c" x="454" y="149"/><use href="#c" x="478" y="142"/></g>
<g fill="#61D04F"><use href="#c" x="285" y="258"/><use href="#c" x="306" y="240"/><use href="#c" x="313" y="223"/><use href="#c" x="324" y="215"/><use href="#c" x="334" y="207"/><use href="#c" x="353" y="197"/><use href="#c" x="364" y="187"/><use href="#c" x="345" y="177"/><use href="#c" x="349" y="166"/><use href="#c" x="361" y="156"/><use href="#c" x="366" y="147"/><use href="#c" x="386" y="140"/></g>
<g fill="#2297E6"><use href="#c" x="412" y="191"/><use href="#c" x="429" y="169"/><use href="#c" x="442" y="160"/><use href="#c" x="465" y="150"/><use href="#c" x="487" y="144"/><use href="#c" x="506" y="145"/><use href="#c" x="493" y="142"/><use href="#c" x="501" y="144"/><use href="#c" x="483" y="144"/><use href="#c" x="513" y="135"/><use href="#c" x="531" y="126"/><use href="#c" x="559" y="121"/><use href="#c" x="382" y="198"/><use href="#c" x="404" y="190"/><use href="#c" x="429" y="176"/><use href="#c" x="462" y="165"/><use href="#c" x="500" y="152"/><use href="#c" x="513" y="147"/><use href="#c" x="529" y="135"/><use href="#c" x="540" y="129"/><use href="#c" x="564" y="125"/><use href="#c" x="574" y="119"/><use href="#c" x="587" y="113"/><use href="#c" x="590" y="109"/></g>
<g fill="#DF536B"><use href="#c" x="382" y="177"/><use href="#c" x="408" y="156"/><use href="#c" x="438" y="150"/><use href="#c" x="471" y="143"/><use href="#c" x="501" y="138"/><use href="#c" x="509" y="132"/><use href="#c" x="515" y="130"/><use href="#c" x="534" y="126"/><use href="#c" x="553" y="129"/><use href="#c" x="570" y="124"/><use href="#c" x="581" y="110"/><use href="#c" x="584" y="106"/></g>
<g fill="#000000"><use href="#c" x="368" y="233"/><use href="#c" x="370" y="222"/><use href="#c" x="385" y="209"/><use href="#c" x="411" y="195"/><use href="#c" x="436" y="177"/><use href="#c" x="419" y="163"/><use href="#c" x="441" y="149"/><use href="#c" x="442" y="139"/><use href="#c" x="457" y="131"/><use href="#c" x="457" y="125"/><use href="#c" x="461" y="120"/><use href="#c" x="482" y="117"/></g>
<g fill="#2297E6"><use href="#c" x="384" y="192"/><use href="#c" x="409" y="177"/><use href="#c" x="429" y="164"/><use href="#c" x="464" y="164"/><use href="#c" x="487" y="152"/><use href="#c" x="504" y="151"/><use href="#c" x="507" y="150"/><use href="#c" x="508" y="151"/><use href="#c" x="466" y="152"/><use href="#c" x="477" y="150"/><use href="#c" x="485" y="142"/><use href="#c" x="520" y="136"/></g>
<g fill="#000000"><use href="#c" x="181" y="296"/><use href="#c" x="191" y="288"/><use href="#c" x="202" y="281"/><use href="#c" x="185" y="276"/><use href="#c" x="201" y="273"/><use href="#c" x="214" y="271"/><use href="#c" x="245" y="265"/><use href="#c" x="240" y="276"/><use href="#c" x="225" y="376"/><use href="#c" x="200" y="315"/><use href="#c" x="232" y="279"/><use href="#c" x="242" y="265"/><use href="#c" x="244" y="264"/><use href="#c" x="242" y="252"/><use href="#c" x="266" y="237"/><use href="#c" x="294" y="225"/><use href="#c" x="305" y="215"/><use href="#c" x="319" y="205"/><use href="#c" x="328" y="196"/><use href="#c" x="304" y="189"/><use href="#c" x="298" y="184"/><use href="#c" x="291" y="181"/><use href="#c" x="292" y="176"/><use href="#c" x="310" y="170"/></g>
<g fill="#61D04F"><use href="#c" x="463" y="296"/><use href="#c" x="489" y="282"/><use href="#c" x="528" y="267"/><use href="#c" x="569" y="247"/><use href="#c" x="611" y="228"/><use href="#c" x="646" y="204"/><use href="#c" x="645" y="183"/><use href="#c" x="594" y="167"/><use href="#c" x="611" y="155"/><use href="#c" x="591" y="146"/><use href="#c" x="582" y="141"/><use href="#c" x="596" y="135"/></g>
<g fill="#000000"><use href="#c" x="299" y="309"/><use href="#c" x="308" y="299"/><use href="#c" x="314" y="288"/><use href="#c" x="311" y="278"/><use href="#c" x="310" y="267"/><use href="#c" x="307" y="252"/><use href="#c" x="304" y="235"/><use href="#c" x="299" y="218"/><use href="#c" x="293" y="206"/><use href="#c" x="295" y="197"/><use href="#c" x="304" y="190"/><use href="#c" x="318" y="183"/></g>
<g fill="#2297E6"><use href="#c" x="399" y="207"/><use href="#c" x="435" y="189"/><use href="#c" x="460" y="175"/><use href="#c" x="487" y="164"/><use href="#c" x="517" y="155"/><use href="#c" x="540" y="147"/><use href="#c" x="557" y="148"/><use href="#c" x="562" y="143"/><use href="#c" x="504" y="140"/><use href="#c" x="486" y="138"/><use href="#c" x="476" y="133"/><use href="#c" x="509" y="129"/></g>
<g fill="#000000"><use href="#c" x="244" y="343"/><use href="#c" x="259" y="337"/><use href="#c" x="271" y="331"/><use href="#c" x="279" y="324"/><use href="#c" x="292" y="318"/><use href="#c" x="291" y="311"/><use href="#c" x="300" y="303"/><use href="#c" x="287" y="296"/><use href="#c" x="266" y="304"/><use href="#c" x="198" y="296"/><use href="#c" x="219" y="291"/><use href="#c" x="242" y="283"/></g>
<g fill="#61D04F"><use href="#c" x="351" y="196"/><use href="#c" x="373" y="182"/><use href="#c" x="401" y="169"/><use href="#c" x="435" y="159"/><use href="#c" x="495" y="151"/><use href="#c" x="524" y="145"/><use href="#c" x="557" y="140"/><use href="#c" x="581" y="131"/><use href="#c" x="611" y="120"/><use href="#c" x="644" y="113"/><use href="#c" x="652" y="106"/><use href="#c" x="682" y="100"/></g>
<g fill="#2297E6"><use href="#c" x="437" y="176"/><use href="#c" x="457" y="161"/><use href="#c" x="479" y="147"/><use href="#c" x="492" y="144"/><use href="#c" x="508" y="147"/><use href="#c" x="521" y="146"/><use href="#c" x="525" y="145"/><use href="#c" x="532" y="143"/><use href="#c" x="506" y="142"/><use href="#c" x="533" y="135"/><use href="#c" x="545" y="130"/><use href="#c" x="580" y="126"/><use href="#c" x="416" y="170"/><use href="#c" x="453" y="159"/><use href="#c" x="478" y="153"/><use href="#c" x="505" y="153"/><use href="#c" x="535" y="149"/><use href="#c" x="558" y="144"/><use href="#c" x="575" y="143"/><use href="#c" x="580" y="138"/><use href="#c" x="550" y="131"/><use href="#c" x="571" y="123"/><use href="#c" x="591" y="116"/><use href="#c" x="615" y="110"/></g>
<g fill="#000000"><use href="#c" x="272" y="330"/><use href="#c" x="284" y="320"/><use href="#c" x="293" y="310"/><use href="#c" x="286" y="301"/><use href="#c" x="283" y="291"/><use href="#c" x="299" y="286"/><use href="#c" x="276" y="281"/><use href="#c" x="268" y="274"/><use href="#c" x="250" y="297"/><use href="#c" x="251" y="277"/><use href="#c" x="245" y="267"/><use href="#c" x="250" y="256"/><use href="#c" x="429" y="271"/><use href="#c" x="445" y="256"/><use href="#c" x="451" y="247"/><use href="#c" x="474" y="237"/><use href="#c" x="484" y="228"/><use href="#c" x="487" y="220"/><use href="#c" x="494" y="207"/><use href="#c" x="484" y="193"/><use href="#c" x="476" y="188"/><use href="#c" x="479" y="196"/><use href="#c" x="483" y="230"/><use href="#c" x="503" y="250"/></g>
<g fill="#2297E6"><use href="#c" x="406" y="173"/><use href="#c" x="425" y="165"/><use href="#c" x="449" y="150"/><use href="#c" x="487" y="142"/><use href="#c" x="518" y="134"/><use href="#c" x="542" y="127"/><use href="#c" x="548" y="118"/><use href="#c" x="561" y="115"/><use href="#c" x="580" y="111"/><use href="#c" x="590" y="106"/><use href="#c" x="611" y="101"/><use href="#c" x="628" y="95"/></g>
<g fill="#61D04F"><use href="#c" x="267" y="209"/><use href="#c" x="266" y="190"/><use href="#c" x="266" y="187"/><use href="#c" x="272" y="177"/><use href="#c" x="280" y="173"/><use href="#c" x="291" y="168"/><use href="#c" x="313" y="155"/><use href="#c" x="328" y="153"/><use href="#c" x="343" y="147"/><use href="#c" x="366" y="146"/><use href="#c" x="380" y="145"/><use href="#c" x="410" y="137"/></g>
<g fill="#000000"><use href="#c" x="311" y="302"/><use href="#c" x="321" y="297"/><use href="#c" x="332" y="291"/><use href="#c" x="316" y="282"/><use href="#c" x="314" y="271"/><use href="#c" x="345" y="257"/><use href="#c" x="329" y="245"/><use href="#c" x="304" y="238"/><use href="#c" x="302" y="229"/><use href="#c" x="312" y="220"/><use href="#c" x="334" y="215"/><use href="#c" x="363" y="205"/><use href="#c" x="274" y="289"/><use href="#c" x="282" y="279"/><use href="#c" x="326" y="271"/><use href="#c" x="364" y="263"/><use href="#c" x="392" y="249"/><use href="#c" x="405" y="234"/><use href="#c" x="408" y="219"/><use href="#c" x="410" y="209"/><use href="#c" x="398" y="205"/><use href="#c" x="407" y="226"/><use href="#c" x="414" y="277"/><use href="#c" x="424" y="298"/></g>
<g fill="#2297E6"><use href="#c" x="494" y="139"/><use href="#c" x="510" y="136"/><use href="#c" x="534" y="132"/><use href="#c" x="558" y="128"/><use href="#c" x="575" y="125"/><use href="#c" x="581" y="122"/><use href="#c" x="591" y="117"/><use href="#c" x="606" y="113"/><use href="#c" x="607" y="109"/><use href="#c" x="613" y="103"/><use href="#c" x="630" y="99"/><use href="#c" x="645" y="95"/><use href="#c" x="554" y="150"/><use href="#c" x="575" y="146"/><use href="#c" x="590" y="142"/><use href="#c" x="603" y="135"/><use href="#c" x="621" y="130"/><use href="#c" x="620" y="122"/><use href="#c" x="626" y="118"/><use href="#c" x="633" y="112"/><use href="#c" x="639" y="109"/><use href="#c" x="640" y="103"/><use href="#c" x="647" y="97"/><use href="#c" x="657" y="91"/></g>
<g fill="#61D04F"><use href="#c" x="313" y="267"/><use href="#c" x="341" y="255"/><use href="#c" x="345" y="245"/><use href="#c" x="328" y="229"/><use href="#c" x="362" y="211"/><use href="#c" x="386" y="192"/><use href="#c" x="404" y="175"/><use href="#c" x="383" y="163"/><use href="#c" x="391" y="152"/><use href="#c" x="411" y="141"/><use href="#c" x="413" y="134"/><use href="#c" x="416" y="128"/><use href="#c" x="279" y="205"/><use href="#c" x="304" y="186"/><use href="#c" x="324" y="172"/><use href="#c" x="365" y="161"/><use href="#c" x="412" y="152"/><use href="#c" x="448" y="146"/><use href="#c" x="479" y="138"/><use href="#c" x="522" y="132"/><use href="#c" x="557" y="128"/><use href="#c" x="589" y="123"/><use href="#c" x="604" y="114"/><use href="#c" x="627" y="107"/></g>
<g fill="#000000"><use href="#c" x="222" y="290"/><use href="#c" x="219" y="281"/><use href="#c" x="223" y="275"/><use href="#c" x="240" y="267"/><use href="#c" x="249" y="258"/><use href="#c" x="254" y="247"/><use href="#c" x="244" y="244"/><use href="#c" x="238" y="239"/><use href="#c" x="237" y="244"/><use href="#c" x="232" y="254"/><use href="#c" x="247" y="248"/><use href="#c" x="270" y="234"/></g>
<g fill="#61D04F"><use href="#c" x="228" y="242"/><use href="#c" x="233" y="229"/><use href="#c" x="259" y="217"/><use href="#c" x="287" y="206"/><use href="#c" x="305" y="196"/><use href="#c" x="332" y="185"/><use href="#c" x="354" y="175"/><use href="#c" x="378" y="168"/><use href="#c" x="426" y="162"/><use href="#c" x="453" y="161"/><use href="#c" x="454" y="156"/><use href="#c" x="479" y="146"/></g>
<g fill="#000000"><use href="#c" x="242" y="302"/><use href="#c" x="250" y="290"/><use href="#c" x="266" y="276"/><use href="#c" x="301" y="262"/><use href="#c" x="313" y="248"/><use href="#c" x="305" y="232"/><use href="#c" x="291" y="220"/><use href="#c" x="279" y="213"/><use href="#c" x="262" y="207"/><use href="#c" x="256" y="205"/><use href="#c" x="245" y="210"/><use href="#c" x="245" y="205"/></g>
<g fill="#DF536B"><use href="#c" x="380" y="202"/><use href="#c" x="413" y="189"/><use href="#c" x="435" y="174"/><use href="#c" x="448" y="171"/><use href="#c" x="466" y="169"/><use href="#c" x="485" y="157"/><use href="#c" x="501" y="154"/><use href="#c" x="478" y="151"/><use href="#c" x="478" y="149"/><use href="#c" x="497" y="151"/><use href="#c" x="526" y="154"/><use href="#c" x="576" y="149"/></g>
<g fill="#000000"><use href="#c" x="301" y="273"/><use href="#c" x="295" y="261"/><use href="#c" x="314" y="249"/><use href="#c" x="331" y="237"/><use href="#c" x="370" y="219"/><use href="#c" x="383" y="198"/><use href="#c" x="398" y="178"/><use href="#c" x="405" y="164"/><use href="#c" x="419" y="149"/><use href="#c" x="432" y="139"/><use href="#c" x="450" y="134"/><use href="#c" x="474" y="129"/></g>
<g fill="#2297E6"><use href="#c" x="333" y="278"/><use href="#c" x="346" y="256"/><use href="#c" x="351" y="236"/><use href="#c" x="373" y="225"/><use href="#c" x="394" y="212"/><use href="#c" x="418" y="200"/><use href="#c" x="417" y="193"/><use href="#c" x="437" y="182"/><use href="#c" x="449" y="167"/><use href="#c" x="466" y="154"/><use href="#c" x="464" y="144"/><use href="#c" x="493" y="140"/></g>
<g fill="#000000"><use href="#c" x="225" y="296"/><use href="#c" x="230" y="283"/><use href="#c" x="229" y="269"/><use href="#c" x="248" y="256"/><use href="#c" x="253" y="242"/><use href="#c" x="240" y="245"/><use href="#c" x="216" y="247"/><use href="#c" x="206" y="239"/><use href="#c" x="210" y="252"/><use href="#c" x="236" y="273"/><use href="#c" x="250" y="257"/><use href="#c" x="264" y="239"/></g>
<g fill="#2297E6"><use href="#c" x="511" y="153"/><use href="#c" x="525" y="147"/><use href="#c" x="536" y="145"/><use href="#c" x="549" y="142"/><use href="#c" x="562" y="139"/><use href="#c" x="572" y="135"/><use href="#c" x="577" y="129"/><use href="#c" x="596" y="124"/><use href="#c" x="601" y="117"/><use href="#c" x="617" y="113"/><use href="#c" x="630" y="107"/><use href="#c" x="643" y="102"/></g>
<g fill="#DF536B"><use href="#c" x="548" y="156"/><use href="#c" x="555" y="151"/><use href="#c" x="564" y="148"/><use href="#c" x="585" y="145"/><use href="#c" x="597" y="142"/><use href="#c" x="608" y="132"/><use href="#c" x="612" y="126"/><use href="#c" x="632" y="124"/><use href="#c" x="639" y="119"/><use href="#c" x="651" y="115"/><use href="#c" x="661" y="113"/><use href="#c" x="671" y="108"/><use href="#c" x="450" y="168"/><use href="#c" x="458" y="163"/><use href="#c" x="448" y="157"/><use href="#c" x="445" y="156"/><use href="#c" x="450" y="155"/><use href="#c" x="464" y="151"/><use href="#c" x="471" y="145"/><use href="#c" x="479" y="139"/><use href="#c" x="489" y="135"/><use href="#c" x="503" y="128"/><use href="#c" x="483" y="123"/><use href="#c" x="518" y="117"/><use href="#c" x="482" y="222"/><use href="#c" x="509" y="208"/><use href="#c" x="492" y="194"/><use href="#c" x="506" y="181"/><use href="#c" x="517" y="170"/><use href="#c" x="541" y="161"/><use href="#c" x="523" y="156"/><use href="#c" x="510" y="148"/><use href="#c" x="519" y="143"/><use href="#c" x="513" y="138"/><use href="#c" x="495" y="135"/><use href="#c" x="526" y="130"/></g>
<g fill="#61D04F"><use href="#c" x="203" y="294"/><use href="#c" x="215" y="281"/><use href="#c" x="230" y="269"/><use href="#c" x="209" y="257"/><use href="#c" x="219" y="245"/><use href="#c" x="221" y="218"/><use href="#c" x="220" y="203"/><use href="#c" x="237" y="184"/><use href="#c" x="257" y="160"/><use href="#c" x="294" y="145"/><use href="#c" x="321" y="134"/><use href="#c" x="356" y="128"/><use href="#c" x="304" y="280"/><use href="#c" x="325" y="268"/><use href="#c" x="345" y="256"/><use href="#c" x="365" y="239"/><use href="#c" x="384" y="215"/><use href="#c" x="402" y="194"/><use href="#c" x="420" y="176"/><use href="#c" x="438" y="163"/><use href="#c" x="456" y="150"/><use href="#c" x="474" y="143"/><use href="#c" x="424" y="137"/><use href="#c" x="380" y="132"/><use href="#c" x="231" y="332"/><use href="#c" x="235" y="325"/><use href="#c" x="237" y="319"/><use href="#c" x="242" y="310"/><use href="#c" x="284" y="296"/><use href="#c" x="325" y="275"/><use href="#c" x="333" y="251"/><use href="#c" x="333" y="232"/><use href="#c" x="328" y="219"/><use href="#c" x="341" y="207"/><use href="#c" x="347" y="196"/><use href="#c" x="349" y="184"/></g>
<g fill="#000000"><use href="#c" x="274" y="286"/><use href="#c" x="288" y="276"/><use href="#c" x="299" y="266"/><use href="#c" x="322" y="258"/><use href="#c" x="321" y="246"/><use href="#c" x="309" y="240"/><use href="#c" x="296" y="238"/><use href="#c" x="280" y="243"/><use href="#c" x="279" y="266"/><use href="#c" x="266" y="294"/><use href="#c" x="266" y="300"/><use href="#c" x="285" y="284"/><use href="#c" x="160" y="254"/><use href="#c" x="186" y="244"/><use href="#c" x="188" y="235"/><use href="#c" x="197" y="227"/><use href="#c" x="234" y="219"/><use href="#c" x="217" y="209"/><use href="#c" x="232" y="196"/><use href="#c" x="220" y="186"/><use href="#c" x="218" y="196"/><use href="#c" x="233" y="262"/><use href="#c" x="215" y="296"/><use href="#c" x="175" y="279"/></g>
</g>
<g fill="#000" shape-rendering="crispEdges">
<rect x="78" y="78" width="731" height="1"/><rect x="78" y="391" width="731" height="1"/><rect x="78" y="78" width="1" height="314"/><rect x="808" y="78" width="1" height="314"/>
<rect x="135" y="391" width="1" height="10"/><rect x="261" y="391" width="1" height="10"/><rect x="388" y="391" width="1" height="10"/><rect x="514" y="391" width="1" height="10"/><rect x="641" y="391" width="1" height="10"/><rect x="767" y="391" width="1" height="10"/><rect x="69" y="348" width="10" height="1"/><rect x="69" y="299" width="10" height="1"/><rect x="69" y="250" width="10" height="1"/><rect x="69" y="201" width="10" height="1"/><rect x="69" y="152" width="10" height="1"/><rect x="69" y="103" width="10" height="1"/>
</g>
<text x="134.82" y="426" text-anchor="middle">2.5</text><text x="261.26" y="426" text-anchor="middle">3.0</text><text x="387.70" y="426" text-anchor="middle">3.5</text><text x="514.14" y="426" text-anchor="middle">4.0</text><text x="640.57" y="426" text-anchor="middle">4.5</text><text x="767.01" y="426" text-anchor="middle">5.0</text>
<text transform="translate(56.4 348.14) rotate(-90)" text-anchor="middle">30</text><text transform="translate(56.4 299.12) rotate(-90)" text-anchor="middle">40</text><text transform="translate(56.4 250.10) rotate(-90)" text-anchor="middle">50</text><text transform="translate(56.4 201.08) rotate(-90)" text-anchor="middle">60</text><text transform="translate(56.4 152.07) rotate(-90)" text-anchor="middle">70</text><text transform="translate(56.4 103.05) rotate(-90)" text-anchor="middle">80</text>
<text x="442.60" y="465" text-anchor="middle">log10(gapminder$gdpPercap)</text>
<text transform="translate(18 234.10) rotate(-90)" text-anchor="middle" textLength="133.4" lengthAdjust="spacing">gapminder$lifeExp</text>
<g shape-rendering="crispEdges"><rect x="705.5" y="275.5" width="103" height="116" fill="#fff" stroke="#000" stroke-width="1"/>
<use href="#c" x="717" y="292" fill="#000"/>
<path d="M720 308h1v1h-1zM719 309h2v1h-2zM719 310h1v1h-1zM721 310h1v1h-1zM718 311h1v1h-1zM721 311h1v1h-1zM718 312h1v1h-1zM722 312h1v1h-1zM717 313h1v1h-1zM722 313h1v1h-1zM717 314h1v1h-1zM723 314h1v1h-1zM716 315h1v1h-1zM723 315h1v1h-1zM716 316h1v1h-1zM724 316h1v1h-1zM715 317h10v1h-10z" fill="#DF536B"/>
<path d="M720 328h1v1h-1zM720 329h1v1h-1zM720 330h1v1h-1zM720 331h1v1h-1zM720 332h1v1h-1zM714 333h12v1h-12zM720 334h1v1h-1zM720 335h1v1h-1zM720 336h1v1h-1zM720 337h1v1h-1zM720 338h1v1h-1z" fill="#61D04F"/>
<path d="M716 349h1v1h-1zM723 349h1v1h-1zM717 350h1v1h-1zM722 350h1v1h-1zM718 351h1v1h-1zM721 351h1v1h-1zM719 352h2v1h-2zM719 353h2v1h-2zM718 354h1v1h-1zM721 354h1v1h-1zM717 355h1v1h-1zM722 355h1v1h-1zM716 356h1v1h-1zM723 356h1v1h-1z" fill="#2297E6"/>
<path d="M720 366h1v1h-1zM719 367h1v1h-1zM721 367h1v1h-1zM717 368h2v1h-2zM722 368h1v1h-1zM716 369h1v1h-1zM723 369h1v1h-1zM715 370h1v1h-1zM724 370h1v1h-1zM714 371h1v1h-1zM725 371h1v1h-1zM715 372h1v1h-1zM724 372h1v1h-1zM716 373h1v1h-1zM723 373h1v1h-1zM717 374h2v1h-2zM722 374h1v1h-1zM719 375h1v1h-1zM721 375h1v1h-1zM720 376h1v1h-1z" fill="#28E2E5"/>
</g>
<text x="733.6" y="302">Africa</text><text x="733.6" y="321">Americas</text><text x="733.6" y="340">Asia</text><text x="733.6" y="360">Europe</text><text x="733.6" y="379">Oceania</text>
</svg>
</body></html>
